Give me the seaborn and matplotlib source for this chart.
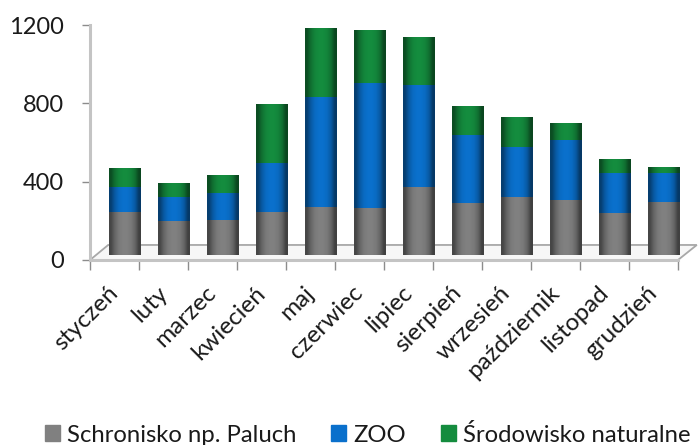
import matplotlib
matplotlib.use("Agg")
import matplotlib.pyplot as plt
import numpy as np
import pandas as pd
import seaborn as sns
from matplotlib.colors import ListedColormap
from matplotlib.patches import Polygon, Patch
from matplotlib.transforms import ScaledTranslation

months = ["styczeń", "luty", "marzec", "kwiecień", "maj", "czerwiec", "lipiec",
          "sierpień", "wrzesień", "październik", "listopad", "grudzień"]
paluch = [220, 174, 179, 220, 245, 240, 347, 265, 296, 281, 215, 271]
zoo = [127, 122, 138, 250, 562, 638, 521, 348, 256, 306, 204, 148]
natural = [97, 72, 92, 301, 352, 270, 245, 150, 153, 87, 71, 30]

df = pd.DataFrame({"month": months, "paluch": paluch, "zoo": zoo, "natural": natural})

sns.set_style("white")
plt.rcParams["font.family"] = ["Lato", "DejaVu Sans"]

fig = plt.figure(figsize=(6.99, 4.45), dpi=100)
ax = fig.add_axes([90 / 699, 1 - 260 / 445, 588 / 699, 235 / 445])

# the 3D floor lifts the bars a little off the axis
floor = 25
sns.barplot(data=df, x="month", y="paluch", color="#808080", width=0.65, saturation=1,
            bottom=floor, linewidth=0, ax=ax)
sns.barplot(data=df, x="month", y="zoo", color="#0a70cc", width=0.65, saturation=1,
            bottom=floor + df.paluch, linewidth=0, ax=ax)
sns.barplot(data=df, x="month", y="natural", color="#148c3e", width=0.65, saturation=1,
            bottom=floor + df.paluch + df.zoo, linewidth=0, ax=ax)

# dark edges on each bar so they read as cylinders, bars also sit back on the floor
shade = np.array([[0.45, 0.2, 0.05, 0, 0, 0.05, 0.2, 0.5]])
for bar in ax.patches:
    bar.set_x(bar.get_x() + 0.21)
    bar.set_clip_on(False)
    x0, y0 = bar.get_x(), bar.get_y()
    im = ax.imshow(shade, cmap=ListedColormap(["black"]), alpha=shade, aspect="auto",
                   interpolation="bilinear", zorder=3,
                   extent=[x0, x0 + bar.get_width(), y0, y0 + bar.get_height()])
    im.set_clip_path(bar)
ax.set_xlim(-0.5, 11.5)
ax.set_ylim(0, 1200)

# floor of the 3D chart
ax.add_patch(Polygon([(0, 0), (0.031, 0.064), (1.032, 0.064), (1.0, 0)], closed=True,
                     transform=ax.transAxes, facecolor="#f7f7f7", edgecolor="#a8a8a8",
                     lw=1.3, zorder=0.5, clip_on=False))

sns.despine(ax=ax, top=True, right=True)
for side in ["left", "bottom"]:
    ax.spines[side].set_color("#c4c4c4")
    ax.spines[side].set_linewidth(2.2)

ax.set_yticks([0, 400, 800, 1200])
ax.set_xticks(np.arange(-0.5, 12, 1), minor=True)
ax.set_xticks(range(12))
ax.set_xticklabels(months, rotation=45, ha="right", rotation_mode="anchor", fontsize=17.5,
                   color="#1a1a1a")
ax.tick_params(axis="x", which="major", length=0, pad=16)
ax.tick_params(axis="x", which="minor", bottom=True, length=7, width=1, color="#8c8c8c")
ax.tick_params(axis="y", left=True, length=6, width=1, color="#8c8c8c", labelsize=17,
               labelcolor="#1a1a1a", pad=13)
ax.set_xlabel("")
ax.set_ylabel("")

shift = ScaledTranslation(-5 / 72, 0, fig.dpi_scale_trans)
for label in ax.get_xticklabels():
    label.set_transform(label.get_transform() + shift)

handles = [Patch(color="#808080", label="Schronisko np. Paluch"),
           Patch(color="#0a70cc", label="ZOO"),
           Patch(color="#148c3e", label="Środowisko naturalne")]
fig.legend(handles=handles, loc="lower center", ncol=3, frameon=False, fontsize=17.2,
           bbox_to_anchor=(0.526, -0.05), handlelength=0.64, handleheight=0.64,
           handletextpad=0.3, columnspacing=1.44, labelcolor="#1a1a1a")

fig.savefig("out.png", dpi=100)
